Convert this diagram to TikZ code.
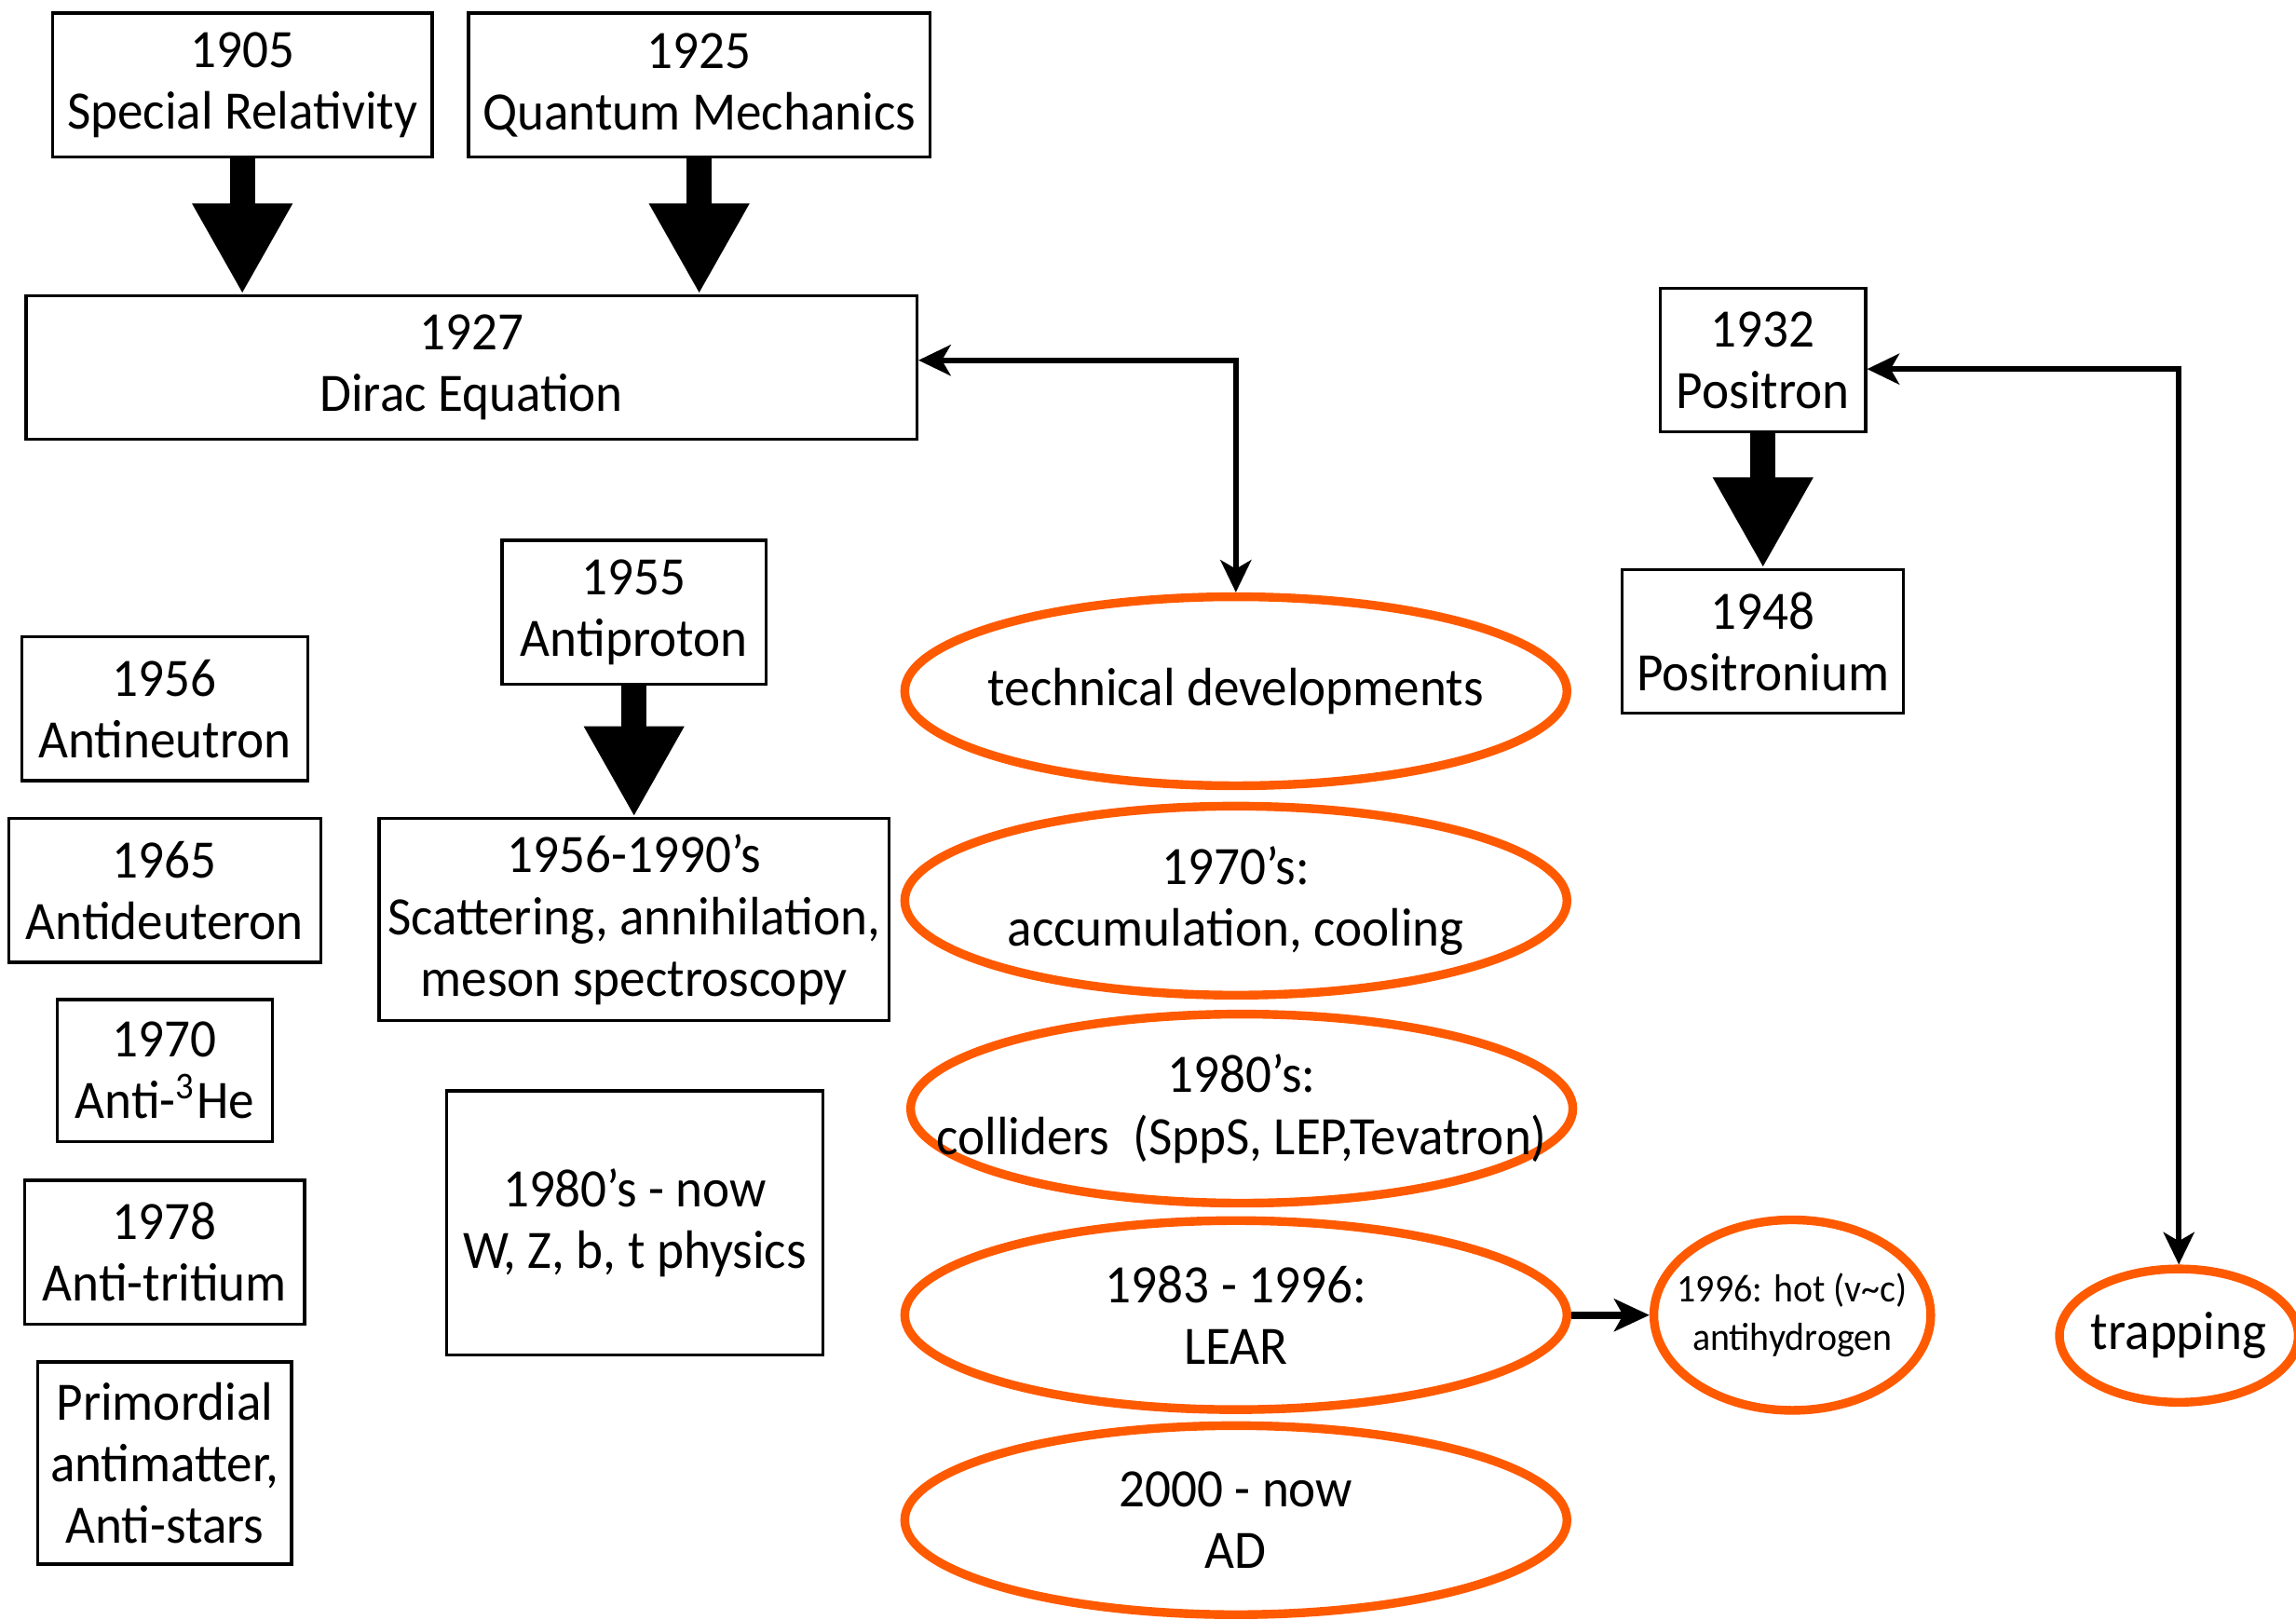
\documentclass[tikz,border=0pt]{standalone}
\usepackage{fontspec}
\setmainfont{Carlito}[FakeStretch=0.95]
\usetikzlibrary{arrows.meta,shapes.geometric}
\definecolor{orangeC}{HTML}{FF5A00}
\begin{document}
\begin{tikzpicture}[x=0.01cm,y=-0.01cm,
  every node/.style={font=\fontsize{10.5}{12}\selectfont, align=center, inner sep=0pt},
  box/.style={draw, line width=0.6pt},
  ell/.style={draw=orangeC, ellipse, line width=1.7pt, minimum width=4.52cm, minimum height=1.29cm},
  bigarrow/.style={line width=0.17cm, -{Triangle[length=0.62cm, width=0.64cm]}},
  thinarrow/.style={line width=1.05pt, {Stealth[length=0.22cm, width=0.21cm, inset=0.06cm]}-{Stealth[length=0.22cm, width=0.21cm, inset=0.06cm]}},
  onearrow/.style={line width=1.4pt, -{Stealth[length=0.24cm, width=0.22cm, inset=0.06cm]}}
]
\useasboundingbox (0,0) rectangle (1568,1106);

% top boxes
\node[box, minimum width=2.59cm, minimum height=0.98cm] (sr) at (165.5,58) {1905\\Special Relativity};
\node[box, minimum width=3.15cm, minimum height=0.98cm] (qm) at (477.5,58) {1925\\Quantum Mechanics};
\node[box, minimum width=6.08cm, minimum height=0.98cm] (dirac) at (322,251) {1927\\Dirac Equation};
\node[box, minimum width=1.40cm, minimum height=0.98cm] (pos) at (1204,246) {1932\\Positron};
\node[box, minimum width=1.92cm, minimum height=0.98cm] (psn) at (1204,438) {1948\\Positronium};

% middle column
\node[box, minimum width=1.80cm, minimum height=0.98cm] (apr) at (433,418) {1955\\Antiproton};
\node[box, minimum width=3.48cm, minimum height=1.38cm] (scat) at (433,628) {1956-1990’s\\Scattering, annihilation,\\meson spectroscopy};
\node[box, minimum width=2.57cm, minimum height=1.80cm] (wz) at (433.5,835) {1980’s - now\\W, Z, b, t physics};

% left column
\node[box, minimum width=1.95cm, minimum height=0.98cm] (aneu) at (112.5,484) {1956\\Antineutron};
\node[box, minimum width=2.13cm, minimum height=0.98cm] (adeu) at (112.5,608) {1965\\Antideuteron};
\node[box, minimum width=1.47cm, minimum height=0.97cm] (ahe) at (112.5,731) {1970\\Anti-\textsuperscript{3}He};
\node[box, minimum width=1.91cm, minimum height=0.98cm] (atr) at (112.5,855) {1978\\Anti-tritium};
\node[box, minimum width=1.73cm, minimum height=1.38cm] (prim) at (112.5,999) {Primordial\\antimatter,\\Anti-stars};

% ellipses (text as centred labels so the outline keeps its size)
\node[ell, label=center:{technical developments}] (tech) at (844,472) {};
\node[ell, label=center:{1970’s:\\accumulation, cooling}] (acc) at (844,615) {};
\node[ell, label=center:{1980’s:\\colliders\ \ (SppS, LEP,Tevatron)}] (coll) at (848,757) {};
\node[ell, label=center:{1983 - 1996:\\LEAR}] (lear) at (844,898) {};
\node[ell, label=center:{2000 - now\\AD}] (ad) at (844,1038) {};
\node[ell, minimum width=1.89cm, minimum height=1.30cm,
  label={[font=\fontsize{7.6}{9.5}\selectfont]center:{1996: hot (v\textasciitilde c)\\antihydrogen}}] (hot) at (1224,898) {};
\node[ell, minimum width=1.63cm, minimum height=0.91cm, label=center:{trapping}] (trap) at (1488,912) {};

% big block arrows
\draw[bigarrow] (sr.south) -- (sr.south |- dirac.north);
\draw[bigarrow] (qm.south) -- (qm.south |- dirac.north);
\draw[bigarrow] (pos.south) -- (psn.north);
\draw[bigarrow] (apr.south) -- (scat.north);

% thin connectors
\coordinate (c1) at (844,246);
\coordinate (c2) at (1488,252);
\draw[thinarrow] (dirac.east |- c1) -- (c1) -- (tech.north);
\draw[thinarrow] (pos.east |- c2) -- (c2) -- (trap.north);
\draw[onearrow] (lear.east) -- (hot.west);
\end{tikzpicture}
\end{document}
